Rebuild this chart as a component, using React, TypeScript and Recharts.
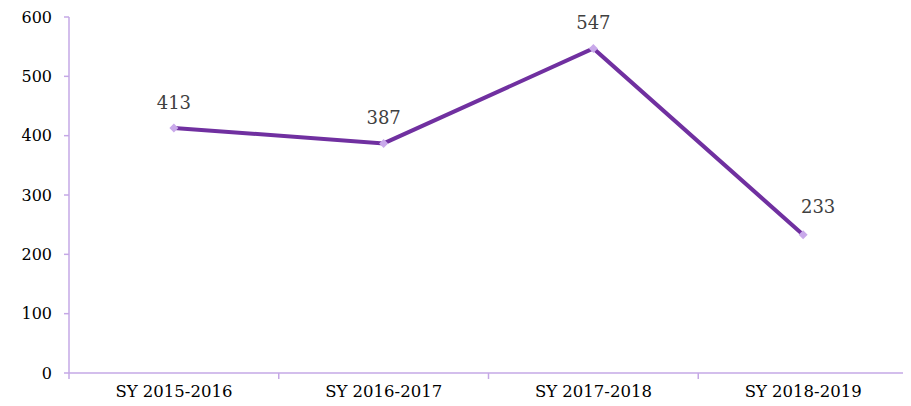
import React from "react";
import { LineChart, Line, XAxis, YAxis, LabelList } from "recharts";

const categories = ["SY 2015-2016", "SY 2016-2017", "SY 2017-2018", "SY 2018-2019"];
const values = [413, 387, 547, 233];
const yTicks = [0, 100, 200, 300, 400, 500, 600];

const data = categories.map((c, i) => ({ name: c, value: values[i] }));

const AXIS = "#c5a8e6";
const LINE = "#7030a0";
const MARK = "#c9a9ea";
const FONT = "'DejaVu Serif', serif";
const X_GAP = 12;

const Diamond = (props: any) => {
  const { cx, cy } = props;
  if (cx == null || cy == null) return null;
  const r = 4.5;
  return (
    <polygon
      points={`${cx},${cy - r} ${cx + r},${cy} ${cx},${cy + r} ${cx - r},${cy}`}
      fill={MARK}
      stroke="none"
    />
  );
};

const CatTick = (props: any) => {
  const { x, y, payload, index } = props;
  const half = payload?.offset ?? 0;
  const axisY = y - X_GAP;
  const last = index === categories.length - 1;
  return (
    <g>
      <line x1={x - half} x2={x - half} y1={axisY} y2={axisY + 6} stroke={AXIS} strokeWidth={1.5} />
      {last && (
        <line x1={x + half} x2={x + half} y1={axisY} y2={axisY + 6} stroke={AXIS} strokeWidth={1.5} />
      )}
      <text x={x} y={y} dy="0.71em" textAnchor="middle" fill="#000" fontSize={16.5} fontFamily={FONT}>
        {payload.value}
      </text>
    </g>
  );
};

const ValueLabel = (props: any) => {
  const { x, y, value, index } = props;
  const last = index === values.length - 1;
  return (
    <text
      x={x + (last ? 15 : 0)}
      y={y - (last ? 22 : 19)}
      textAnchor="middle"
      fill="#404040"
      fontSize={18}
      fontFamily={FONT}
    >
      {value}
    </text>
  );
};

export default function App() {
  return (
    <LineChart
      width={903}
      height={398}
      data={data}
      margin={{ top: 9, right: 3, left: 0, bottom: 3 }}
    >
      <XAxis
        dataKey="name"
        scale="band"
        tickLine={false}
        tickSize={0}
        tickMargin={X_GAP}
        axisLine={{ stroke: AXIS, strokeWidth: 1.5 }}
        tick={<CatTick />}
        interval={0}
        height={30}
      />
      <YAxis
        domain={[0, 600]}
        ticks={yTicks}
        width={61}
        axisLine={{ stroke: AXIS, strokeWidth: 1.5 }}
        tickLine={{ stroke: AXIS, strokeWidth: 1.5 }}
        tickSize={5}
        tickMargin={12}
        tick={{ fill: "#000", fontSize: 16, fontFamily: FONT }}
      />
      <Line
        dataKey="value"
        stroke={LINE}
        strokeWidth={4}
        dot={<Diamond />}
        activeDot={false}
        isAnimationActive={false}
      >
        <LabelList dataKey="value" content={<ValueLabel />} />
      </Line>
    </LineChart>
  );
}
